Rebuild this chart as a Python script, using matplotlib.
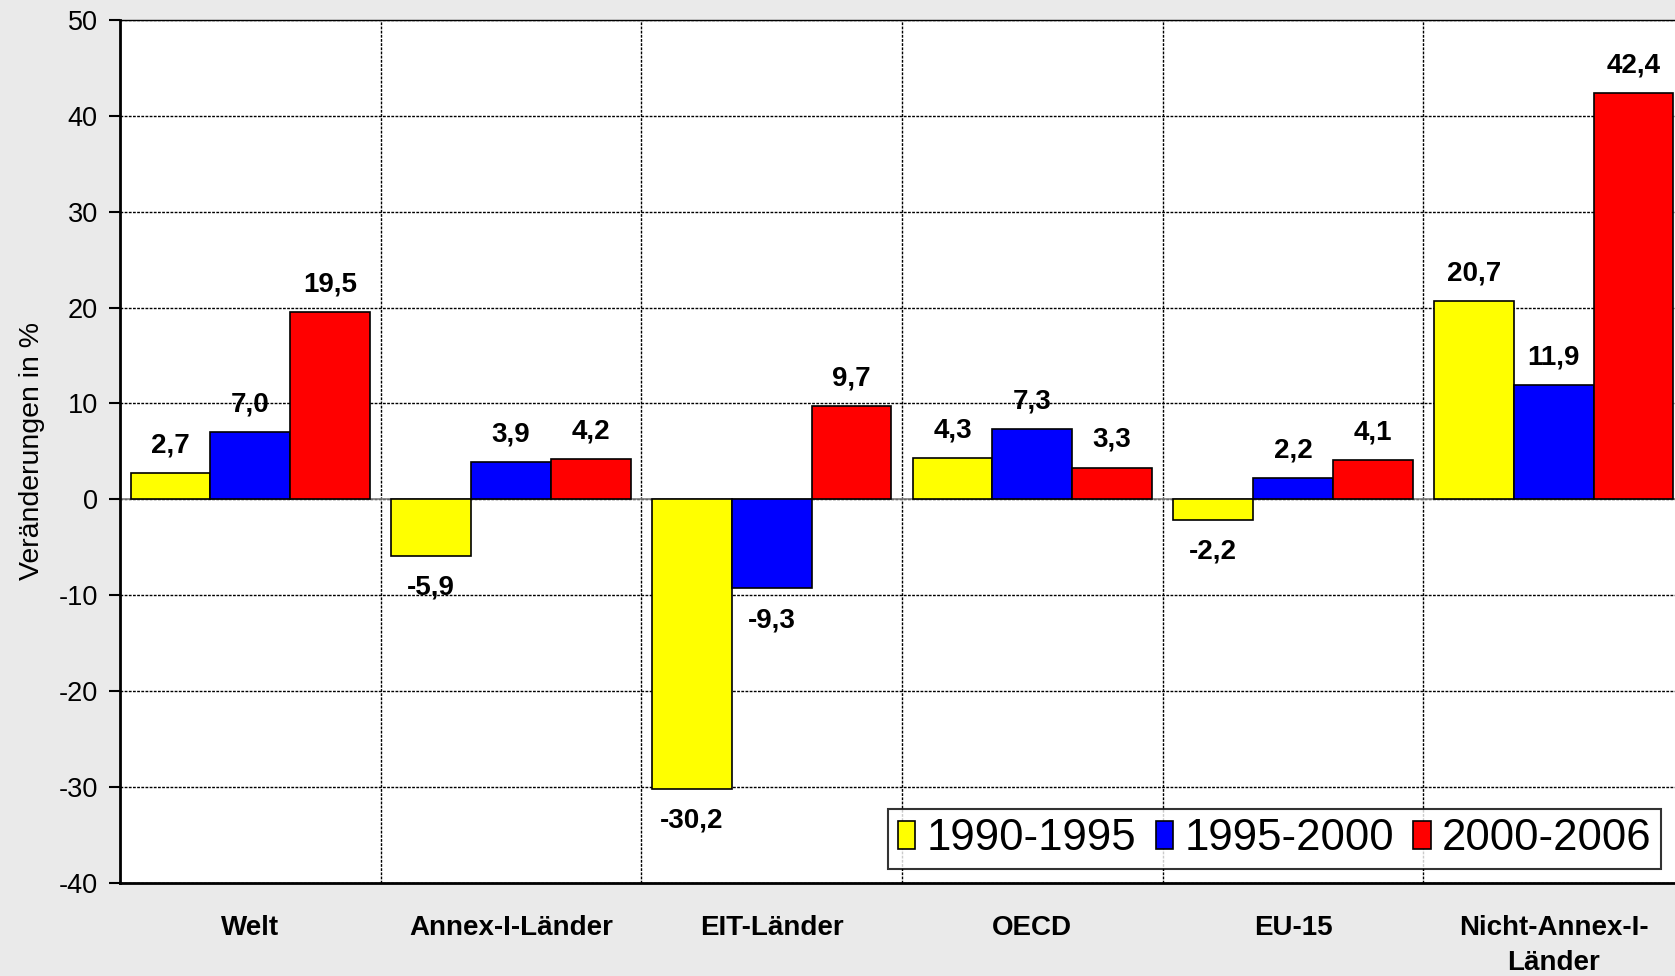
import matplotlib
matplotlib.use("Agg")
import matplotlib.pyplot as plt
from matplotlib.font_manager import FontProperties
import numpy as np

categories = ["Welt", "Annex-I-Länder", "EIT-Länder", "OECD", "EU-15", "Nicht-Annex-I-\nLänder"]
series_names = ["1990-1995", "1995-2000", "2000-2006"]
v_1990_1995 = [2.7, -5.9, -30.2, 4.3, -2.2, 20.7]
v_1995_2000 = [7.0, 3.9, -9.3, 7.3, 2.2, 11.9]
v_2000_2006 = [19.5, 4.2, 9.7, 3.3, 4.1, 42.4]
colors = ["#FFFF00", "#0000FF", "#FF0000"]
yticks = [-40, -30, -20, -10, 0, 10, 20, 30, 40, 50]

plt.rcParams['font.family'] = ['Liberation Sans', 'DejaVu Sans']

fig = plt.figure(figsize=(16.75, 9.76), dpi=100)
fig.patch.set_facecolor("#EAEAEA")
ax = fig.add_axes([120/1675, 93.3/976, 1564/1675, 862.7/976])
ax.set_facecolor("white")

x = np.arange(len(categories))
w = 0.306
all_series = [v_1990_1995, v_1995_2000, v_2000_2006]
for k, (vals, col) in enumerate(zip(all_series, colors)):
    pos = x + (k - 1) * w
    ax.bar(pos, vals, width=w, color=col, edgecolor="black", linewidth=1.2, zorder=3,
           label=series_names[k])
    for p, v in zip(pos, vals):
        lab = f"{v:.1f}".replace(".", ",")
        off = 2.9 if v >= 0 else -3.3
        ax.text(p, v + off, lab, ha="center", va="center", fontsize=20,
                fontweight="bold", zorder=4)

ax.set_xlim(-0.5, len(categories) - 0.5)
ax.set_ylim(-40, 50)
ax.set_yticks(yticks)
ax.set_yticklabels([str(t) for t in yticks], fontsize=19.5)
ax.set_xticks(x)
ax.set_xticklabels(categories, fontsize=20, fontweight="bold", linespacing=1.45)
ax.tick_params(axis="x", length=0, pad=23)
ax.tick_params(axis="y", length=8, width=1.5, direction="out", pad=8)

ax.set_xticks(np.arange(0.5, len(categories) - 0.5, 1), minor=True)
ax.tick_params(axis="x", which="minor", length=0)
ax.grid(True, axis="y", which="major", linestyle=(0, (2, 1)), color="black", linewidth=1, zorder=1)
ax.grid(True, axis="x", which="minor", linestyle=(0, (2, 1)), color="black", linewidth=1, zorder=1)
ax.axhline(0, color="#808080", linewidth=1.2, zorder=2)

ax.spines["right"].set_visible(False)
ax.spines["top"].set_linewidth(1.0)
ax.spines["top"].set_linestyle((0, (2, 1)))
ax.spines["left"].set_linewidth(2)
ax.spines["bottom"].set_linewidth(2)

ax.set_ylabel("Veränderungen in %", fontsize=20.5, labelpad=10)

leg = ax.legend(loc="lower right", bbox_to_anchor=(1661/1675, 107/976),
                bbox_transform=fig.transFigure, ncol=3,
                prop=FontProperties(family=["Liberation Sans"], size=31.5),
                frameon=True, fancybox=False, handlelength=0.4, handleheight=0.6,
                handletextpad=0.25, columnspacing=0.45, borderpad=0.22, borderaxespad=0)
leg.get_frame().set_edgecolor("black")
leg.get_frame().set_linewidth(1.5)
leg.set_zorder(5)

fig.savefig("out.png", dpi=100, facecolor=fig.get_facecolor())
